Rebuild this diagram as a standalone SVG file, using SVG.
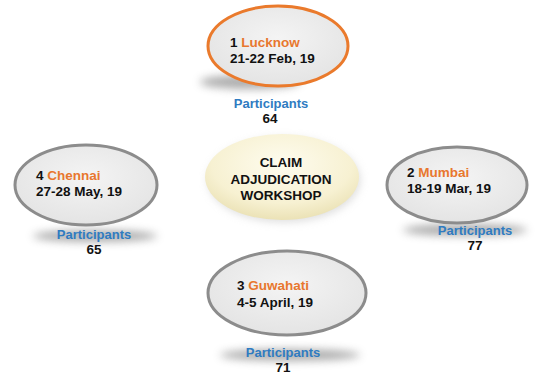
<svg xmlns="http://www.w3.org/2000/svg" width="544" height="378" viewBox="0 0 544 378">
<defs>
<radialGradient id="g" cx="50%" cy="40%" r="60%">
<stop offset="0" stop-color="#f4f4f4"/><stop offset="1" stop-color="#e4e4e4"/>
</radialGradient>
<radialGradient id="c" cx="50%" cy="35%" r="65%">
<stop offset="0" stop-color="#fefcef"/><stop offset="0.7" stop-color="#f7f1d2"/><stop offset="1" stop-color="#ebe2b6"/>
</radialGradient>
<filter id="b" x="-30%" y="-100%" width="160%" height="300%"><feGaussianBlur stdDeviation="4"/></filter>
</defs>
<style>
text{font-family:"Liberation Sans",Arial,sans-serif;font-weight:bold;font-size:13.5px;fill:#111}
.o{fill:#e8772e}
.p{fill:#2f7bc1;text-anchor:middle;font-size:13px}
.n{text-anchor:middle}
.ring{fill:url(#g);stroke-width:3}
.sh{fill:#8a8a8a;filter:url(#b);opacity:0.7}
</style>
<rect width="544" height="378" fill="#fff"/>
<g id="connectors"/>
<g id="center">
<ellipse cx="284" cy="180" rx="76" ry="42" fill="#bbb" filter="url(#b)" opacity="0.5"/>
<ellipse cx="282" cy="177" rx="77" ry="43" fill="url(#c)"/>
<text class="n" x="281" y="167">CLAIM</text>
<text class="n" x="281" y="184">ADJUDICATION</text>
<text class="n" x="281" y="200">WORKSHOP</text>
</g>
<g id="lucknow">
<ellipse class="sh" cx="250" cy="82" rx="50" ry="7"/>
<ellipse class="ring" cx="278" cy="46" rx="70" ry="40" stroke="#ea7a2c"/>
<text x="230" y="47">1 <tspan class="o">Lucknow</tspan></text>
<text x="230" y="63">21-22 Feb, 19</text>
<text class="p" x="271" y="108">Participants</text>
<text class="n" x="270" y="123">64</text>
</g>
<g id="mumbai">
<ellipse class="sh" cx="465" cy="230" rx="62" ry="6"/>
<ellipse class="ring" cx="457" cy="185" rx="70" ry="38" stroke="#8c8c8c"/>
<text x="407" y="177">2 <tspan class="o">Mumbai</tspan></text>
<text x="407" y="193">18-19 Mar, 19</text>
<text class="p" x="475" y="235">Participants</text>
<text class="n" x="475" y="250">77</text>
</g>
<g id="guwahati">
<ellipse class="sh" cx="290" cy="355" rx="70" ry="6"/>
<ellipse class="ring" cx="287" cy="293" rx="79" ry="42" stroke="#8c8c8c"/>
<text x="237" y="290">3 <tspan class="o">Guwahati</tspan></text>
<text x="237" y="307">4-5 April, 19</text>
<text class="p" x="283" y="357">Participants</text>
<text class="n" x="283" y="372">71</text>
</g>
<g id="chennai">
<ellipse class="sh" cx="95" cy="236" rx="62" ry="6"/>
<ellipse class="ring" cx="86" cy="185" rx="71" ry="40" stroke="#8c8c8c"/>
<text x="36" y="180">4 <tspan class="o">Chennai</tspan></text>
<text x="36" y="196">27-28 May, 19</text>
<text class="p" x="94" y="239">Participants</text>
<text class="n" x="94" y="254">65</text>
</g>
</svg>
